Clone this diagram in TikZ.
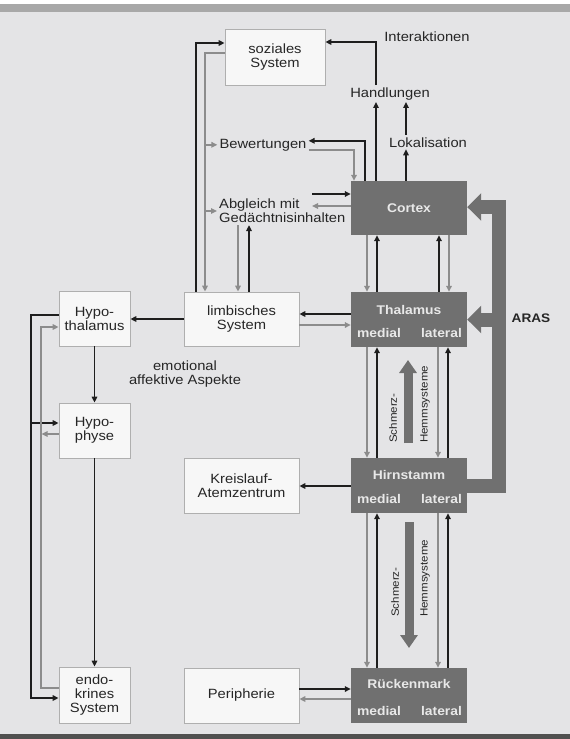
\documentclass[tikz,border=0pt]{standalone}
\usepackage{fontspec}
\newfontfamily\labf[FakeStretch=1.1]{Liberation Sans}
\usetikzlibrary{arrows.meta}
\definecolor{bg}{RGB}{228,228,230}
\definecolor{topbar}{RGB}{168,168,168}
\definecolor{botbar}{RGB}{80,80,80}
\definecolor{boxfill}{RGB}{247,247,247}
\definecolor{boxline}{RGB}{175,175,175}
\definecolor{dark}{RGB}{112,112,112}
\definecolor{dtxt}{RGB}{232,232,232}
\definecolor{txt}{RGB}{38,38,38}
\definecolor{blkline}{RGB}{30,30,30}
\definecolor{gryline}{RGB}{140,140,140}
\begin{document}
\begin{tikzpicture}[x=1pt,y=-1pt,
  lab/.style={font=\labf\fontsize{13.4}{14}\selectfont, text=txt, inner sep=2pt, align=center},
  wbox/.style={lab, draw=boxline, fill=boxfill, line width=0.8pt, inner sep=0pt},
  dbox/.style={fill=dark, draw=none, inner sep=0pt, minimum width=116pt, minimum height=55pt},
  dtext/.style={font=\labf\bfseries\fontsize{12.6}{14}\selectfont, text=dtxt, inner sep=0pt},
  small/.style={font=\labf\fontsize{10.5}{12}\selectfont, text=txt, inner sep=0pt, rotate=90, anchor=west},
  blkl/.style={draw=blkline, line width=1.5pt},
  gryl/.style={draw=gryline, line width=1.5pt},
  blk/.style={blkl, -{Triangle[length=6pt,width=5.5pt]}},
  gry/.style={gryl, -{Triangle[length=6pt,width=5.5pt]}},
  fat/.style={draw=dark, line width=9pt, -{Triangle[length=13pt,width=17pt]}},
  aras/.style={draw=dark, line width=14pt, line join=miter, -{Triangle[length=14pt,width=27pt]}}
]
\useasboundingbox (0,0) rectangle (570,739);
% background
\fill[white] (0,0) rectangle (570,4);
\fill[topbar] (0,4) rectangle (570,12);
\fill[bg] (0,12) rectangle (570,734);
\fill[botbar] (0,734) rectangle (570,739);

% white boxes
\node[wbox, minimum width=100pt, minimum height=56pt] (soz) at (275,57) {soziales\\System};
\node[wbox, minimum width=115pt, minimum height=54pt] (limb) at (241.5,319) {limbisches\\System};
\node[wbox, minimum width=71pt, minimum height=55pt] (hypoth) at (94.5,318.5) {Hypo-\\thalamus};
\node[wbox, minimum width=71pt, minimum height=55pt] (hypoph) at (94.5,430.5) {Hypo-\\physe};
\node[wbox, minimum width=71pt, minimum height=56pt] (endo) at (94.5,695) {endo-\\krines\\System};
\node[wbox, minimum width=115pt, minimum height=55pt] (kreis) at (241.5,485.5) {Kreislauf-\\Atemzentrum};
\node[wbox, minimum width=115pt, minimum height=55pt] (peri) at (241.5,695.5) {Peripherie};

% dark boxes
\node[dbox, minimum height=54pt] (cortex) at (409,208) {};
\node[dtext] (cortexT) at (409,208) {Cortex};
\node[dbox] (thal) at (409,319.5) {};
\node[dtext, anchor=base] (thalT) at (409,314) {Thalamus};
\node[dtext, anchor=base] (thalM) at (379,337) {medial};
\node[dtext, anchor=base] (thalL) at (441.5,337) {lateral};
\node[dbox] (hirn) at (409,485.5) {};
\node[dtext, anchor=base] (hirnT) at (409,479) {Hirnstamm};
\node[dtext, anchor=base] (hirnM) at (379,503) {medial};
\node[dtext, anchor=base] (hirnL) at (441.5,503) {lateral};
\node[dbox] (rueck) at (409,695.5) {};
\node[dtext, anchor=base] (rueckT) at (409,688) {Rückenmark};
\node[dtext, anchor=base] (rueckM) at (379,715) {medial};
\node[dtext, anchor=base] (rueckL) at (441.5,715) {lateral};

% free labels
\node[lab, anchor=base] (inter) at (427,41) {Interaktionen};
\node[lab, anchor=base] (hand) at (390,97) {Handlungen};
\node[lab, anchor=base] (lok) at (428,147) {Lokalisation};
\node[lab, anchor=base] (bew) at (263,148) {Bewertungen};
\node[lab, align=left, anchor=west] (abg) at (217,211) {Abgleich mit\\Gedächtnisinhalten};
\node[lab] (emo) at (185,374) {emotional\\affektive Aspekte};
\node[lab, font=\labf\bfseries\fontsize{12.4}{14}\selectfont, anchor=base] (arasT) at (531,322) {ARAS};

\coordinate (abgin) at (312,194);
\coordinate (abgout) at (312,206);

% top connectors
\draw[blk] (hand.north -| 376,0) |- (soz.east |- 0,42);
\draw[blk] (cortex.north -| 376,0) -- (hand.south -| 376,0);
\draw[blk] (cortex.north -| 406,0) -- (lok.south -| 406,0);
\draw[blk] (lok.north -| 406,0) -- (hand.south -| 406,0);
\draw[blk] (cortex.north -| 365,0) |- ([yshift=4pt]bew.east);
\draw[gry] ([yshift=-5pt]bew.east) -| (cortex.north -| 354,0);
\draw[blk] (abgin) -- (cortex.west |- abgin);
\draw[gry] (cortex.west |- abgout) -- (abgout);
\draw[gry] (abg.south -| 238,0) -- (limb.north -| 238,0);
\draw[blk] (limb.north -| 249,0) -- (abg.south -| 249,0);
\draw[blk] (limb.north -| 196,0) |- (soz.west |- 0,43);
\draw[gry] (soz.west |- 0,53) -| (limb.north -| 205,0);
\draw[gry] (205,0 |- bew.west) -- (bew.west);
\draw[gry] (205,0 |- abg.west) -- (abg.west);

% cortex - thalamus
\draw[gry] (cortex.south -| 367,0) -- (thal.north -| 367,0);
\draw[blk] (thal.north -| 377,0) -- (cortex.south -| 377,0);
\draw[blk] (thal.north -| 439,0) -- (cortex.south -| 439,0);
\draw[gry] (cortex.south -| 449,0) -- (thal.north -| 449,0);
% thalamus - hirnstamm
\draw[gry] (thal.south -| 367,0) -- (hirn.north -| 367,0);
\draw[blk] (hirn.north -| 377,0) -- (thal.south -| 377,0);
\draw[gry] (thal.south -| 438,0) -- (hirn.north -| 438,0);
\draw[blk] (hirn.north -| 448,0) -- (thal.south -| 448,0);
% hirnstamm - rueckenmark
\draw[gry] (hirn.south -| 367,0) -- (rueck.north -| 367,0);
\draw[blk] (rueck.north -| 377,0) -- (hirn.south -| 377,0);
\draw[gry] (hirn.south -| 438,0) -- (rueck.north -| 438,0);
\draw[blk] (rueck.north -| 448,0) -- (hirn.south -| 448,0);

% thalamus - limbisches
\draw[blk] (thal.west |- 0,314) -- (limb.east |- 0,314);
\draw[gry] (limb.east |- 0,325) -- (thal.west |- 0,325);
\draw[blk] (limb.west) -- (hypoth.east |- limb.west);
\draw[blk] (hypoth.south) -- (hypoph.north);
\draw[blk] (hypoph.south) -- (endo.north);

% left loops
\draw[blk] (hypoth.west |- 0,315) -| (31,698) -- (endo.west |- 0,698);
\draw[blk] (31,423) -- (hypoph.west |- 0,423);
\draw[gry] (endo.west |- 0,688) -| (41,327) -- (hypoth.west |- 0,327);
\draw[gry] (hypoph.west |- 0,434) -- (41.5,434);

% hirnstamm, peripherie
\draw[blk] (hirn.west |- 0,486) -- (kreis.east |- 0,486);
\draw[blk] (peri.east |- 0,689) -- (rueck.west |- 0,689);
\draw[gry] (rueck.west |- 0,699) -- (peri.east |- 0,699);

% ARAS
\coordinate (arasR) at (499,0);
\draw[aras] (hirn.east) -| (arasR |- 0,207) -- (cortex.east |- 0,207);
\draw[aras] (arasR |- thal.east) -- (thal.east);

% Schmerz-Hemmsysteme
\draw[fat] (408,443) -- (408,360);
\draw[fat] (409,522) -- (409,648);
\node[small] (s1) at (393,443) {Schmerz-};
\node[small] (h1) at (425,443) {Hemmsysteme};
\node[small] (s2) at (395,617) {Schmerz-};
\node[small] (h2) at (425,617) {Hemmsysteme};
\end{tikzpicture}
\end{document}
